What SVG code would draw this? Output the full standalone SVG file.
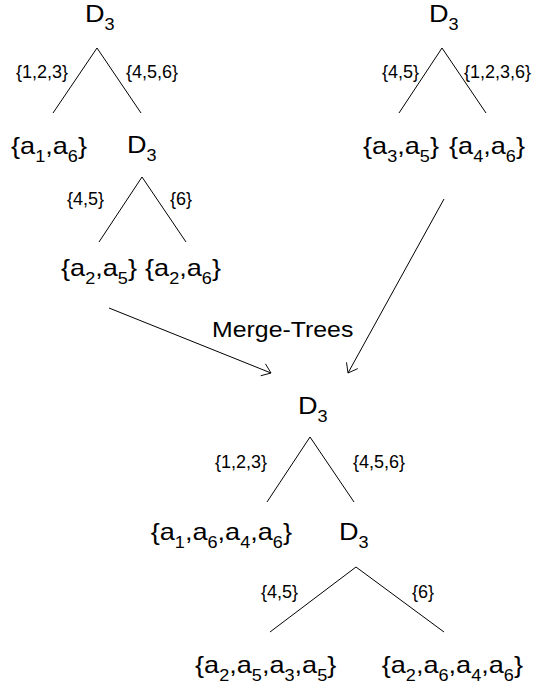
<svg xmlns="http://www.w3.org/2000/svg" width="533" height="687" viewBox="0 0 533 687">
<style>
text{font-family:"Liberation Sans",Arial,Helvetica,sans-serif;fill:#000}
.big{font-size:24px}
.sub{font-size:16px}
.sm{font-size:18px}
.mt{font-size:22px}
.ln{stroke:#000;stroke-width:1;fill:none}
.ar{stroke:#000;stroke-width:1;fill:none;marker-end:url(#ah)}
</style>
<defs>
<marker id="ah" markerUnits="userSpaceOnUse" orient="auto" markerWidth="24" markerHeight="24" refX="0" refY="0" viewBox="-14 -12 28 24" overflow="visible">
<path d="M-10,-7.5 L0,0 L-10,7.5" fill="none" stroke="#000" stroke-width="1"/>
</marker>
</defs>
<rect width="533" height="687" fill="#fff"/>

<g id="connectors">
<line class="ln" x1="97" y1="48" x2="53" y2="113"/>
<line class="ln" x1="97" y1="48" x2="141" y2="113"/>
<line class="ln" x1="142" y1="177" x2="99" y2="242"/>
<line class="ln" x1="142" y1="177" x2="186" y2="242"/>
<line class="ln" x1="442" y1="48" x2="399" y2="113"/>
<line class="ln" x1="442" y1="48" x2="486" y2="113"/>
<line class="ln" x1="310" y1="437" x2="267" y2="502"/>
<line class="ln" x1="310" y1="437" x2="354" y2="502"/>
<line class="ln" x1="356" y1="567" x2="270" y2="632"/>
<line class="ln" x1="356" y1="567" x2="444" y2="632"/>
<line class="ar" x1="109" y1="308" x2="271" y2="373"/>
<line class="ar" x1="444" y1="199" x2="348" y2="373"/>
<text class="sm" x="16" y="78">{1,2,3}</text>
<text class="sm" x="126" y="78">{4,5,6}</text>
<text class="sm" x="67" y="205">{4,5}</text>
<text class="sm" x="170" y="205">{6}</text>
<text class="sm" x="382" y="78">{4,5}</text>
<text class="sm" x="464" y="78">{1,2,3,6}</text>
<text class="sm" x="215" y="468">{1,2,3}</text>
<text class="sm" x="353" y="468">{4,5,6}</text>
<text class="sm" x="261" y="598">{4,5}</text>
<text class="sm" x="412" y="598">{6}</text>
<text class="mt" transform="translate(212,337) scale(1.13,1)">Merge-Trees</text>
</g>

<g id="n1"><text class="big" transform="translate(85,22) scale(1.13,1)">D<tspan class="sub" dy="8">3</tspan></text></g>
<g id="n2"><text class="big" text-anchor="middle" transform="translate(49,154) scale(1.13,1)">{a<tspan class="sub" dy="8">1</tspan><tspan dy="-8">,a</tspan><tspan class="sub" dy="8">6</tspan><tspan dy="-8">}</tspan></text></g>
<g id="n3"><text class="big" transform="translate(127,153) scale(1.13,1)">D<tspan class="sub" dy="8">3</tspan></text></g>
<g id="n4"><text class="big" text-anchor="middle" transform="translate(99,276) scale(1.13,1)">{a<tspan class="sub" dy="8">2</tspan><tspan dy="-8">,a</tspan><tspan class="sub" dy="8">5</tspan><tspan dy="-8">}</tspan></text></g>
<g id="n5"><text class="big" text-anchor="middle" transform="translate(183,276) scale(1.13,1)">{a<tspan class="sub" dy="8">2</tspan><tspan dy="-8">,a</tspan><tspan class="sub" dy="8">6</tspan><tspan dy="-8">}</tspan></text></g>
<g id="n6"><text class="big" transform="translate(429,22) scale(1.13,1)">D<tspan class="sub" dy="8">3</tspan></text></g>
<g id="n7"><text class="big" text-anchor="middle" transform="translate(401,154) scale(1.13,1)">{a<tspan class="sub" dy="8">3</tspan><tspan dy="-8">,a</tspan><tspan class="sub" dy="8">5</tspan><tspan dy="-8">}</tspan></text></g>
<g id="n8"><text class="big" text-anchor="middle" transform="translate(487,154) scale(1.13,1)">{a<tspan class="sub" dy="8">4</tspan><tspan dy="-8">,a</tspan><tspan class="sub" dy="8">6</tspan><tspan dy="-8">}</tspan></text></g>
<g id="n9"><text class="big" transform="translate(298,414) scale(1.13,1)">D<tspan class="sub" dy="8">3</tspan></text></g>
<g id="n10"><text class="big" text-anchor="end" transform="translate(292,540) scale(1.13,1)">{a<tspan class="sub" dy="8">1</tspan><tspan dy="-8">,a</tspan><tspan class="sub" dy="8">6</tspan><tspan dy="-8">,a</tspan><tspan class="sub" dy="8">4</tspan><tspan dy="-8">,a</tspan><tspan class="sub" dy="8">6</tspan><tspan dy="-8">}</tspan></text></g>
<g id="n11"><text class="big" transform="translate(339,540) scale(1.13,1)">D<tspan class="sub" dy="8">3</tspan></text></g>
<g id="n12"><text class="big" transform="translate(195,673) scale(1.13,1)">{a<tspan class="sub" dy="8">2</tspan><tspan dy="-8">,a</tspan><tspan class="sub" dy="8">5</tspan><tspan dy="-8">,a</tspan><tspan class="sub" dy="8">3</tspan><tspan dy="-8">,a</tspan><tspan class="sub" dy="8">5</tspan><tspan dy="-8">}</tspan></text></g>
<g id="n13"><text class="big" text-anchor="end" transform="translate(523,673) scale(1.13,1)">{a<tspan class="sub" dy="8">2</tspan><tspan dy="-8">,a</tspan><tspan class="sub" dy="8">6</tspan><tspan dy="-8">,a</tspan><tspan class="sub" dy="8">4</tspan><tspan dy="-8">,a</tspan><tspan class="sub" dy="8">6</tspan><tspan dy="-8">}</tspan></text></g>
</svg>
